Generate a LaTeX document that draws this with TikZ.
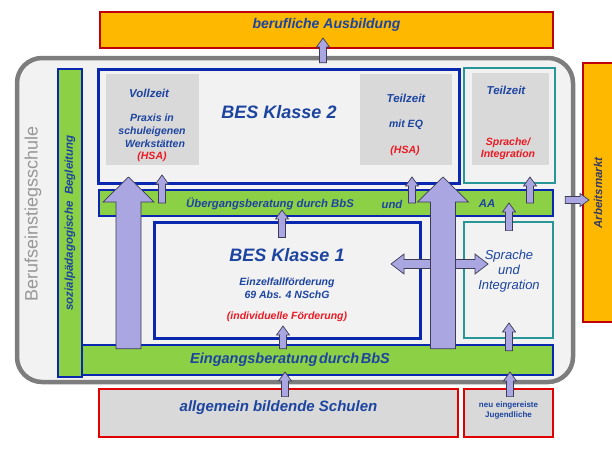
\documentclass[tikz,border=0pt]{standalone}
\usepackage{fontspec}
\setmainfont{Liberation Sans}
\usepackage{tikz}
\usetikzlibrary{positioning,calc,fit}
\definecolor{besblue}{RGB}{28,68,160}
\definecolor{boxblue}{RGB}{10,40,175}
\definecolor{barg}{RGB}{140,208,70}
\definecolor{tealbd}{RGB}{40,150,150}
\definecolor{orangebx}{RGB}{255,184,0}
\definecolor{redbd}{RGB}{225,0,0}
\definecolor{darkred}{RGB}{190,0,10}
\definecolor{bgfill}{RGB}{242,242,242}
\definecolor{grayfill}{RGB}{217,217,217}
\definecolor{schulgray}{RGB}{125,125,125}
\definecolor{arrowfill}{RGB}{170,166,226}
\definecolor{arrowline}{RGB}{60,60,85}
\definecolor{redtxt}{RGB}{235,25,35}
\definecolor{marktxt}{RGB}{55,60,95}
\tikzstyle{box} = [rectangle, inner sep=0pt]
\tikzstyle{bluebox} = [box, draw=boxblue, line width=3pt, fill=bgfill]
\tikzstyle{tealbox} = [box, draw=tealbd, line width=2.8pt, fill=bgfill]
\tikzstyle{graybox} = [box, fill=grayfill]
\tikzstyle{greenbar} = [box, draw=boxblue, line width=2.4pt, fill=barg]
\tikzstyle{redbox} = [box, draw=redbd, line width=2.8pt, fill=grayfill]
\tikzstyle{orangebox} = [box, draw=darkred, line width=2.5pt, fill=orangebx]
\tikzstyle{blockarrow} = [fill=arrowfill, draw=arrowline, line width=0.7pt, line join=miter]
\tikzset{
  lbl/.style 2 args={inner sep=0pt, align=center, text=besblue, font=\bfseries\itshape\fontsize{#1}{#2}\selectfont},
  lblmd/.style 2 args={lbl={#1}{#2}, font=\mdseries\itshape\fontsize{#1}{#2}\selectfont},
  barrow/.style n args={3}{blockarrow, to path={
    ($(\tikztotarget)!#3!(\tikztostart)$) coordinate (hb)
    ($(\tikztostart)!#1!90:(\tikztotarget)$) -- ($(hb)!#1!90:(\tikztotarget)$)
    -- ($(hb)!#2!90:(\tikztotarget)$) -- (\tikztotarget)
    -- ($(hb)!#2!-90:(\tikztotarget)$) -- ($(hb)!#1!-90:(\tikztotarget)$)
    -- ($(\tikztostart)!#1!-90:(\tikztotarget)$) -- cycle}},
  smallarrow/.style={barrow={3.5pt}{6.5pt}{9pt}},
  sidearrow/.style={barrow={4.5pt}{10pt}{13pt}},
  bigarrow/.style={barrow={12.5pt}{25.5pt}{25pt}},
}

\begin{document}
\begin{tikzpicture}[x=1pt,y=-1pt]
\useasboundingbox (0,0) rectangle (612,452);
% Rahmen
\node[box, draw=schulgray, line width=4.5pt, fill=bgfill, rounded corners=25pt, fit={(17,58) (573,382)}] (schule) {};
\node[rotate=90, inner sep=0pt, text=schulgray!80, font=\fontsize{18}{20}\selectfont] (schuletxt) at (33,214) {Berufseinstiegsschule};
\node[orangebox, lbl={14}{16}, fit={(100,12) (553,48)}] (ausb) {berufliche Ausbildung};
\node[orangebox, fit={(583,63) (614,322)}] (markt) {};
\node[lbl={11.5}{13}, text=marktxt, rotate=90] (markttxt) at (598,193) {Arbeitsmarkt};

% Balken
\node[greenbar, fit={(58,345) (553,375)}] (eingang) {};
\node[lbl={14.5}{16}] (eingangtxt) at (290,360) {Eingangsberatung\hspace{1.5pt}durch\hspace{1.5pt}BbS};
\node[greenbar, fit={(58,69) (82,377)}] (sozial) {};
\node[lbl={11.5}{13}, rotate=90] (sozialtxt) at (sozial.center) {sozialpädagogische\ \ Begleitung};

% Klasse 2
\node[bluebox, fit={(98,69) (459,183)}] (k2) {};
\node[graybox, fit={(106,74) (199,165)}] (voll) {};
\node[lbl={11.5}{13}] (volltxt) at (149,93) {Vollzeit};
\node[lbl={10.5}{12.8}] (praxis) at (152,138) {Praxis in\\schuleigenen\\\hspace*{6pt}Werkstätten\\\textcolor{redtxt}{(HSA)}};
\node[lbl={18}{20}] (k2txt) at (279,112) {BES Klasse 2};
\node[graybox, fit={(360,74) (452,165)}] (teil) {};
\node[lbl={11.5}{13}] (teiltxt) at (406,98) {Teilzeit};
\node[lbl={10.5}{12}] (eq) at (406,125) {mit EQ};
\node[lbl={10.5}{12}, text=redtxt] (hsa) at (405,151) {(HSA)};
\node[tealbox, fit={(464,68) (555,183)}] (teilS) {};
\node[graybox, fit={(472,73) (549,165)}] (teilSg) {};
\node[lbl={11.5}{13}] (teilStxt) at (506,90) {Teilzeit};
\node[lbl={10.5}{12.5}, text=redtxt] (sprtop) at (508,149) {Sprache/\\Integration};

\node[greenbar, fit={(99,190) (553,216)}] (ueber) {};
\node[lbl={11.3}{13}] (uebertxt) at (270,204) {Übergangsberatung durch BbS};
\node[lbl={11.3}{13}] (und) at (392,204) {und};
\node[lbl={11.3}{13}] (aa) at (487,204) {AA};

% Klasse 1
\node[bluebox, fit={(154,222) (420,338)}] (k1) {};
\node[lbl={18}{20}] (k1txt) at (287,255) {BES Klasse 1};
\node[lbl={10.5}{12.5}] (einzel) at (287,288) {Einzelfallförderung\\69 Abs. 4 NSchG};
\node[lbl={10.5}{12}, text=redtxt] (indiv) at (287,317) {(individuelle Förderung)};
\node[tealbox, fit={(464,222) (553,338)}] (spr) {};
\node[lblmd={13}{15}] (sprtxt) at (509,271) {Sprache\\und\\Integration};

% unten
\node[redbox, lbl={15}{17}, fit={(99,389) (458,437)}] (allg) {allgemein bildende Schulen};
\node[redbox, fit={(464,389) (553,437)}, align=center, text=besblue, font=\bfseries\fontsize{8}{10}\selectfont] (neu) {neu eingereiste\\Jugendliche};

% Pfeile
\coordinate (tA) at (323,38);
\coordinate (tV) at (162,175);
\coordinate (tE) at (412,177);
\coordinate (tT) at (530,177);
\coordinate (tU) at (282,210);
\coordinate (tS) at (509,203);
\coordinate (tK) at (283,326);
\coordinate (tI) at (509,323);
\coordinate (tG) at (285,372);
\coordinate (tN) at (510,372);
\coordinate (tM) at (589,200);
\draw[smallarrow] ($(schule.north -| tA)+(0,7)$) to (tA);
\draw[smallarrow] (ueber.center -| tV) to (tV);
\draw[smallarrow] (ueber.center -| tE) to (tE);
\draw[smallarrow] (ueber.center -| tT) to (tT);
\draw[smallarrow] ($(k1.north -| tU)+(0,17)$) to (tU);
\draw[smallarrow] ($(spr.north -| tS)+(0,10)$) to (tS);
\draw[smallarrow] ($(eingang.north -| tK)+(0,5)$) to (tK);
\draw[smallarrow] ($(eingang.north -| tI)+(0,7)$) to (tI);
\draw[smallarrow] ($(allg.north -| tG)+(0,9)$) to (tG);
\draw[smallarrow] ($(neu.north -| tN)+(0,9)$) to (tN);
\draw[smallarrow] ($(schule.east |- tM)+(-10,0)$) to (tM);

\coordinate (hm) at (443,264);
\coordinate (hl) at (391,264);
\coordinate (hr) at (488,264);
\draw[sidearrow] (hm) to (hl);
\draw[sidearrow] (hm) to (hr);

\coordinate (tBL) at (128.5,177);
\coordinate (tBR) at (443,177);
\draw[bigarrow] ($(eingang.north -| tBL)+(0,5)$) to (tBL);
\draw[bigarrow] ($(eingang.north -| tBR)+(0,5)$) to (tBR);
\end{tikzpicture}
\end{document}
